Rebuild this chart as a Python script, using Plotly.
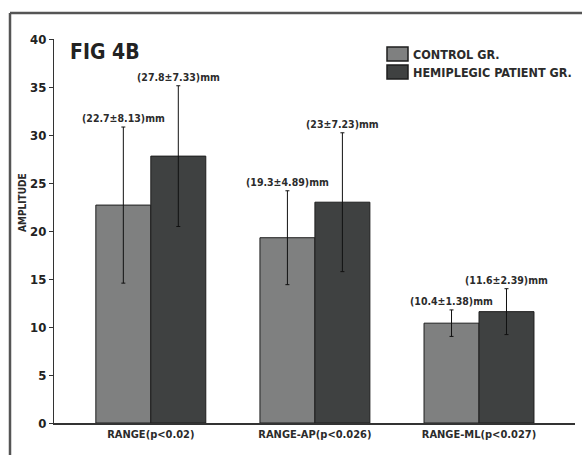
import plotly.graph_objects as go

categories = ["RANGE(p<0.02)", "RANGE-AP(p<0.026)", "RANGE-ML(p<0.027)"]
control_mean = [22.7, 19.3, 10.4]
control_sd = [8.13, 4.89, 1.38]
patient_mean = [27.8, 23.0, 11.6]
patient_sd = [7.33, 7.23, 2.39]
series_names = ["CONTROL GR.", "HEMIPLEGIC PATIENT GR."]
series_colors = ["#7f8080", "#3f4141"]
y_ticks = [0, 5, 10, 15, 20, 25, 30, 35, 40]

FONT = "Liberation Sans Narrow, Arial Narrow, DejaVu Sans Condensed, sans-serif"
TXT = "#2b2b2b"

W, H = 582, 455
L, R, T, B = 54, 7, 39, 32
PW, PH = W - L - R, H - T - B


def px(x):
    return (x - L) / PW


def py(y):
    return (H - B - y) / PH


fig = go.Figure()
for name, mean, sd, color in [
    (series_names[0], control_mean, control_sd, series_colors[0]),
    (series_names[1], patient_mean, patient_sd, series_colors[1]),
]:
    fig.add_trace(go.Bar(
        name=name, x=categories, y=mean,
        marker=dict(color=color, line=dict(color="#1e1e1e", width=1)),
        error_y=dict(type="data", array=sd, visible=True, color="#111111", thickness=1, width=2),
        offsetgroup=name,
    ))

# value labels above error bars
annotations = []
for i, cat in enumerate(categories):
    for j, (mean, sd) in enumerate([(control_mean, control_sd), (patient_mean, patient_sd)]):
        m, s = mean[i], sd[i]
        annotations.append(dict(
            x=cat, y=m + s, xref="x", yref="y",
            text=f"<b>({m:g}\u00b1{s:g})mm</b>", showarrow=False,
            xshift=(-27.5 if j == 0 else 27.5), yanchor="bottom", yshift=1,
            font=dict(family=FONT, size=10.5, color=TXT),
        ))

annotations.append(dict(
    x=px(68), y=py(52), xref="paper", yref="paper",
    text="<b>FIG 4B</b>", showarrow=False, xanchor="left", yanchor="middle",
    font=dict(family=FONT, size=21, color="#222222"),
))
annotations.append(dict(
    x=px(22), y=py(203), xref="paper", yref="paper",
    text="<b>AMPLITUDE</b>", showarrow=False, textangle=-90,
    xanchor="center", yanchor="middle",
    font=dict(family=FONT, size=10, color=TXT),
))

shapes = [
    dict(type="line", xref="paper", yref="paper",
         x0=px(10), x1=px(582), y0=py(13), y1=py(13),
         line=dict(color="#555555", width=2.5)),
    dict(type="line", xref="paper", yref="paper",
         x0=px(10), x1=px(10), y0=py(13), y1=py(455),
         line=dict(color="#555555", width=2.5)),
]

# legend (swatches + labels)
for k, (name, color) in enumerate(zip(series_names, series_colors)):
    top = 47 + k * 18
    shapes.append(dict(type="rect", xref="paper", yref="paper",
                       x0=px(387), x1=px(408), y0=py(top), y1=py(top + 14),
                       fillcolor=color, line=dict(color="#1e1e1e", width=1.5)))
    annotations.append(dict(
        x=px(411), y=py(top + 7), xref="paper", yref="paper",
        text=f"<b>{name}</b>", showarrow=False, xanchor="left", yanchor="middle",
        font=dict(family=FONT, size=12.5, color=TXT),
    ))

fig.update_layout(
    width=W, height=H,
    margin=dict(l=L, r=R, t=T, b=B),
    paper_bgcolor="white", plot_bgcolor="white",
    barmode="group", bargap=0.33, bargroupgap=0,
    showlegend=False,
    annotations=annotations,
    shapes=shapes,
    xaxis=dict(
        range=[-0.59, 2.585], showline=True, linecolor="#333333", linewidth=1.5,
        ticks="", showgrid=False, zeroline=False,
        tickfont=dict(family=FONT, size=11, color=TXT, weight="bold"),
    ),
    yaxis=dict(
        range=[0, 40], tickvals=y_ticks, showline=True, linecolor="#333333", linewidth=1,
        ticks="outside", ticklen=4, tickcolor="#333333", showgrid=False, zeroline=False,
        tickfont=dict(family=FONT, size=13, color="#222222", weight="bold"),
    ),
)

fig.write_html("out.html")
